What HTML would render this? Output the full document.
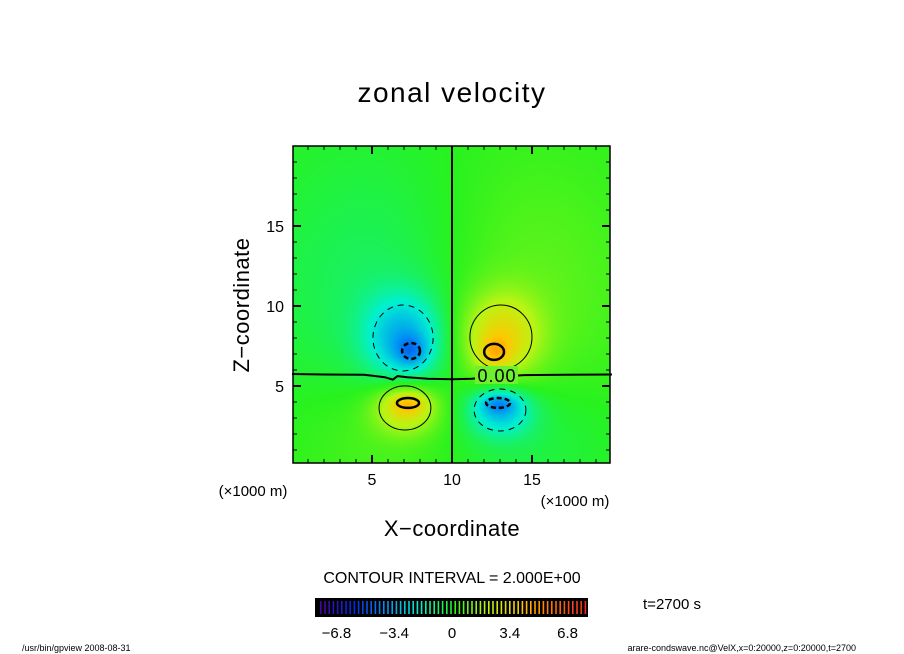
<!DOCTYPE html>
<html><head><meta charset="utf-8"><style>
body{margin:0;background:#fff;width:904px;height:654px;overflow:hidden;font-family:"Liberation Sans",sans-serif}
#wrap{position:relative;width:904px;height:654px}
canvas{position:absolute;left:293px;top:146px}
svg{position:absolute;left:0;top:0}
</style></head><body><div id="wrap">
<canvas id="cv" width="317" height="317"></canvas>
<svg id="sv" width="904" height="654">
<text x="452" y="102" text-anchor="middle" font-size="28" letter-spacing="1.5">zonal velocity</text>
<text x="452" y="536" text-anchor="middle" font-size="22" letter-spacing="0.5">X−coordinate</text>
<text transform="translate(249,305) rotate(-90)" text-anchor="middle" font-size="22" letter-spacing="0.5">Z−coordinate</text>
<text x="253" y="496" text-anchor="middle" font-size="15">(×1000 m)</text>
<text x="575" y="506" text-anchor="middle" font-size="15">(×1000 m)</text>
<text x="452" y="583" text-anchor="middle" font-size="16">CONTOUR INTERVAL = 2.000E+00</text>
<text x="672" y="609" text-anchor="middle" font-size="15">t=2700 s</text>
<text x="22" y="651" font-size="9">/usr/bin/gpview   2008-08-31</text>
<text x="856" y="651" text-anchor="end" font-size="9">arare-condswave.nc@VelX,x=0:20000,z=0:20000,t=2700</text>
<g id="g"></g>
</svg></div>
<script>
// field components (km, m/s)
const blobX=[6.94,7.44,13.06,12.63,7.06,7.25,13.0,12.88,6,14,6,14];
const blobZ=[8.0,7.19,8.06,7.13,3.63,3.94,3.5,3.94,11,11,2,2];
const blobA=[-3,-1.8,3,1.8,2.8,1.8,-2.8,-1.8,-0.9,0.9,0.7,-0.7];
const blobSx=[1.7,0.7,1.7,0.7,1.4,0.8,1.4,0.8,5,5,4,4];
const blobSz=[1.9,0.7,1.9,0.7,1.1,0.45,1.1,0.45,6,6,3,3];
// contour ellipses (km)
const ctrX=[6.94,7.44,13.06,12.63,7.06,7.25,13.0,12.88];
const ctrZ=[8.0,7.19,8.06,7.13,3.63,3.94,3.5,3.94];
const ctrRx=[1.88,0.56,1.94,0.62,1.62,0.69,1.62,0.75];
const ctrRy=[2.06,0.5,2.0,0.5,1.38,0.31,1.31,0.31];
const ctrLevel=[-2,-4,2,4,2,4,-2,-4];
const xTicks=[5,10,15];
const zTicks=[5,10,15];
const cbTicks=[-6.8,-3.4,0,3.4,6.8];
const zeroLineX=[0,2,4.5,5.8,6.3,6.6,7.2,8.5,10,11.2,12.5,13.5,14.5,17,20];
const zeroLineZ=[5.75,5.72,5.7,5.55,5.4,5.62,5.55,5.45,5.42,5.45,5.55,5.62,5.68,5.7,5.72];

const L=292,T=146,S=16;
const px=x=>L+x*S, pz=z=>T+(20-z)*S;
const stops=[[-8,80,0,160],[-6,0,40,230],[-4,0,145,245],[-2,0,240,210],[0,40,242,30],[2,185,245,20],[4,255,200,0],[6,255,110,0],[8,240,40,40]];
function cmap(v){v=Math.max(-8,Math.min(8,v));for(let i=0;i<stops.length-1;i++){const a=stops[i],b=stops[i+1];if(v<=b[0]){const t=(v-a[0])/(b[0]-a[0]);return [0,1,2].map(k=>Math.round(a[k+1]+(b[k+1]-a[k+1])*t));}}return stops[8].slice(1);}
function field(x,z){let v=0;for(let i=0;i<blobX.length;i++){v+=blobA[i]*Math.exp(-0.5*(Math.pow((x-blobX[i])/blobSx[i],2)+Math.pow((z-blobZ[i])/blobSz[i],2)));}return v;}
const cv=document.getElementById('cv'),ctx=cv.getContext('2d'),img=ctx.createImageData(317,317);
for(let j=0;j<317;j++)for(let i=0;i<317;i++){const c=cmap(field((i+1)/S,20-j/S));const o=(j*317+i)*4;img.data[o]=c[0];img.data[o+1]=c[1];img.data[o+2]=c[2];img.data[o+3]=255;}
ctx.putImageData(img,0,0);
const NS='http://www.w3.org/2000/svg',g=document.getElementById('g');
function mk(t,a,txt){const e=document.createElementNS(NS,t);for(const k in a)e.setAttribute(k,a[k]);if(txt!==undefined)e.textContent=txt;g.appendChild(e);return e;}
for(let i=0;i<ctrX.length;i++){const lv=ctrLevel[i],thick=Math.abs(lv)>=4;
const e=mk('ellipse',{cx:px(ctrX[i]),cy:pz(ctrZ[i]),rx:ctrRx[i]*S,ry:ctrRy[i]*S,fill:'none',stroke:'#000','stroke-width':thick?2.5:1,'stroke-dasharray':lv<0?(thick?'5,3':'6,5'):'none'});

}
const zl=mk('polyline',{points:zeroLineX.map((x,i)=>px(x)+','+pz(zeroLineZ[i])).join(' '),fill:'none',stroke:'#000','stroke-width':2});


const zr=mk('rect',{x:475,y:366,width:43,height:18,fill:'#6ef030'});


const zt=mk('text',{x:497,y:382,'text-anchor':'middle','font-size':18,'letter-spacing':'1'},'0.00');


const vl=mk('line',{x1:px(10),x2:px(10),y1:T,y2:T+317,stroke:'#000','stroke-width':2});


const fr=mk('rect',{x:293,y:146,width:317,height:317,fill:'none',stroke:'#000','stroke-width':1.5});


for(let k=1;k<20;k++){const len=k%5===0?8:4,w=k%5===0?2:1;
[[px(k),463,px(k),463-len],[px(k),146,px(k),146+len],[293,pz(k),293+len,pz(k)],[610,pz(k),610-len,pz(k)]].forEach(c=>{const e=mk('line',{x1:c[0],y1:c[1],x2:c[2],y2:c[3],stroke:'#000','stroke-width':w});

});}
xTicks.forEach(t=>{const e=mk('text',{x:px(t),y:485,'text-anchor':'middle','font-size':16},String(t));

});
zTicks.forEach(t=>{const e=mk('text',{x:284,y:pz(t)+6,'text-anchor':'end','font-size':16},String(t));

});
const cb=mk('rect',{x:315,y:598,width:273,height:19,fill:'#000'});


for(let k=0;k<64;k++){const v=-8+16*(k+0.5)/64,c=cmap(v);const e=mk('rect',{x:320+k*4.2,y:601,width:1.6,height:13,fill:'rgb('+c+')'});

}
cbTicks.forEach(t=>{const e=mk('text',{x:452+t*17,y:638,'text-anchor':'middle','font-size':15},t<0?'−'+Math.abs(t):String(t));

});
</script></body></html>
